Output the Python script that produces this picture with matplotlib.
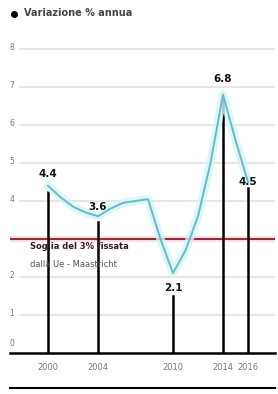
import matplotlib
matplotlib.use("Agg")
import matplotlib.pyplot as plt
from matplotlib.lines import Line2D

# data
years = [2000, 2001, 2002, 2003, 2004, 2005, 2006, 2007, 2008, 2009,
         2010, 2011, 2012, 2013, 2014, 2015, 2016]
values = [4.4, 4.1, 3.85, 3.7, 3.6, 3.8, 3.95, 4.0, 4.05, 3.0,
          2.1, 2.7, 3.6, 5.0, 6.8, 5.6, 4.5]
label_years = [2000, 2004, 2010, 2014, 2016]
label_values = [4.4, 3.6, 2.1, 6.8, 4.5]
yticks = [0, 1, 2, 3, 4, 5, 6, 7, 8]
threshold = 3.0
title = "Variazione % annua"
note = ["Soglia del 3% fissata", "dalla Ue - Maastricht"]

W, H = 278, 394
fig = plt.figure(figsize=(W / 100, H / 100), dpi=100)
fig.patch.set_facecolor("white")

# axes placed in pixel terms: x 10..275, y 30..353
ax = fig.add_axes([10 / W, (H - 353) / H, 265 / W, 323 / H])
x0 = 2000 - 38 / 12.5
x1 = 2000 + 227 / 12.5
ax.set_xlim(x0, x1)
ax.set_ylim(0, 323 / 38)
ax.axis("off")

# grid
for t in yticks[1:]:
    ax.plot([x0 + 10 / 12.5, x1], [t, t], color="#e2e2e2", lw=1.2, zorder=1)
    if t != threshold:
        ax.text(x0 + 2 / 12.5, t + 0.05, str(t), fontsize=5.5, color="#777777",
                ha="center", va="center", zorder=2)
ax.text(x0 + 2 / 12.5, 0.25, "0", fontsize=5.5, color="#777777",
        ha="center", va="center")

# threshold line with soft glow
ax.plot([x0, x1], [threshold, threshold], color="#f6c4cb", lw=4, alpha=0.6, zorder=2)
ax.plot([x0, x1], [threshold, threshold], color="#8a1c2c", lw=1.3, zorder=3)
ax.text(x0 + 20 / 12.5, threshold - 0.08, note[0], fontsize=6, color="#3a1a1f",
        fontweight="bold", ha="left", va="top", zorder=10)
ax.text(x0 + 20 / 12.5, threshold - 0.55, note[1], fontsize=6, color="#555555",
        ha="left", va="top", zorder=10)

# point label offsets (2.1 sits below its point)
offsets = {2000: 0.3, 2004: 0.25, 2010: -0.4, 2014: 0.4, 2016: 0.0}

# stems
for yr, v in zip(label_years, label_values):
    top = v - 0.15 if offsets[yr] >= 0 else v + offsets[yr] - 0.2
    ax.plot([yr, yr], [0, top], color="black", lw=1.8, zorder=5)

# series line with glow
ax.plot(years, values, color="#d3f5f8", lw=6, alpha=0.8, zorder=6,
        solid_capstyle="round", solid_joinstyle="round")
ax.plot(years, values, color="#6bb9c4", lw=1.4, zorder=7,
        solid_joinstyle="round")

# point labels
for yr, v in zip(label_years, label_values):
    ax.text(yr, v + offsets[yr], f"{v:.1f}", fontsize=7.5, fontweight="bold",
            color="#111111", ha="center", va="center", zorder=8)

# x axis line
ax.plot([x0, x1], [0, 0], color="black", lw=1.8, clip_on=False, zorder=9)
for yr in label_years:
    ax.text(yr, -15 / 38, str(yr), fontsize=6, color="#777777",
            ha="center", va="center")

# bottom rule
fig.add_artist(Line2D([10 / W, 275 / W], [(H - 388) / H, (H - 388) / H],
                      color="black", lw=1.5))

# title with marker
fig.add_artist(Line2D([14 / W], [(H - 14) / H], marker="o", markersize=4,
                      color="black", lw=0))
fig.text(24 / W, (H - 13) / H, title, fontsize=7, color="#444444",
         fontweight="bold", ha="left", va="center")

fig.savefig("out.png", dpi=100, facecolor="white")
